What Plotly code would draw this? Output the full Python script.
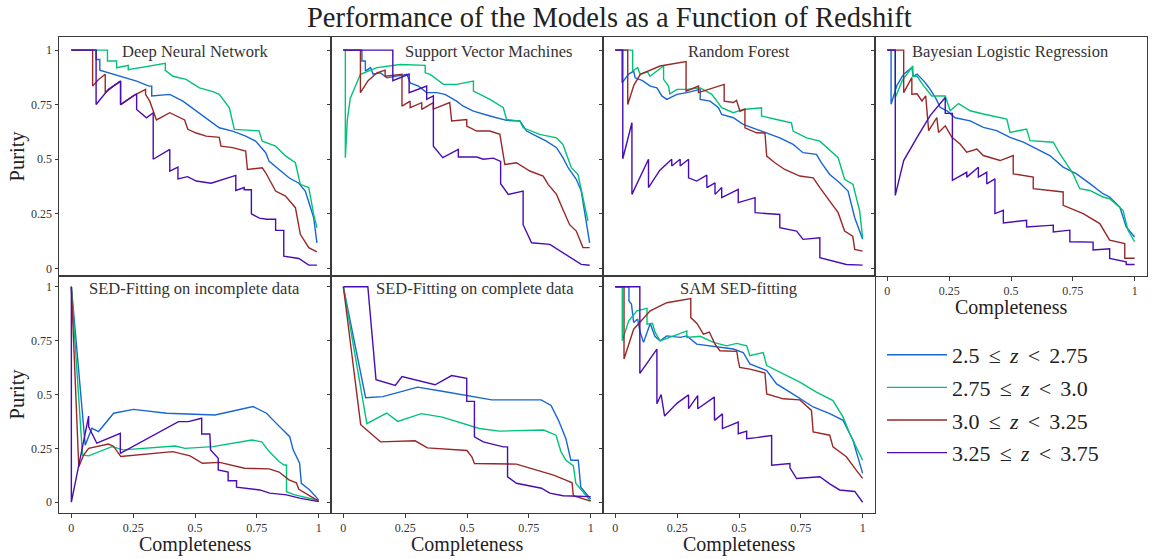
import plotly.graph_objects as go

W, H = 1152, 559

# ---------------- data: (completeness, purity) points ----------------
dnn_z1 = [(0,1),(0.10,1),(0.10,0.957),(0.115,0.957),(0.115,0.908),(0.2,0.88),(0.264,0.858),(0.314,0.835),(0.325,0.835),(0.325,0.79),(0.398,0.797),(0.451,0.766),(0.498,0.728),(0.545,0.69),(0.598,0.644),(0.652,0.629),(0.705,0.606),(0.745,0.583),(0.786,0.53),(0.80,0.49),(0.839,0.453),(0.88,0.415),(0.92,0.39),(0.946,0.354),(0.98,0.232),(0.993,0.117)]
dnn_z2 = [(0,1),(0.146,1),(0.146,0.95),(0.183,0.95),(0.183,0.919),(0.23,0.93),(0.23,0.91),(0.30,0.925),(0.38,0.939),(0.38,0.907),(0.411,0.88),(0.464,0.866),(0.498,0.843),(0.518,0.827),(0.572,0.81),(0.598,0.797),(0.639,0.736),(0.659,0.637),(0.759,0.63),(0.772,0.583),(0.826,0.56),(0.866,0.515),(0.906,0.484),(0.926,0.385),(0.96,0.37),(0.98,0.247),(0.993,0.186)]
dnn_z3 = [(0,1),(0.086,1),(0.086,0.835),(0.11,0.865),(0.137,0.889),(0.137,0.805),(0.17,0.835),(0.199,0.858),(0.199,0.75),(0.25,0.79),(0.30,0.82),(0.30,0.797),(0.317,0.766),(0.331,0.72),(0.344,0.68),(0.398,0.713),(0.438,0.69),(0.458,0.68),(0.471,0.637),(0.505,0.62),(0.545,0.606),(0.598,0.6),(0.605,0.56),(0.652,0.553),(0.705,0.537),(0.712,0.453),(0.772,0.461),(0.786,0.438),(0.826,0.354),(0.866,0.331),(0.906,0.278),(0.926,0.156),(0.96,0.095),(0.993,0.076)]
dnn_z4 = [(0,1),(0.100,1),(0.100,0.751),(0.15,0.82),(0.199,0.858),(0.199,0.75),(0.264,0.80),(0.264,0.728),(0.304,0.69),(0.331,0.713),(0.331,0.50),(0.398,0.545),(0.398,0.445),(0.431,0.464),(0.431,0.41),(0.47,0.42),(0.505,0.40),(0.565,0.39),(0.665,0.426),(0.665,0.357),(0.699,0.37),(0.699,0.36),(0.728,0.36),(0.728,0.25),(0.76,0.23),(0.79,0.225),(0.826,0.225),(0.826,0.174),(0.859,0.174),(0.859,0.056),(0.92,0.045),(0.96,0.015),(0.993,0.015)]

svm_z1 = [(0,1),(0.075,1),(0.075,0.95),(0.089,0.95),(0.089,0.904),(0.11,0.92),(0.12,0.89),(0.149,0.896),(0.176,0.873),(0.257,0.889),(0.27,0.85),(0.304,0.835),(0.337,0.805),(0.378,0.805),(0.411,0.797),(0.458,0.766),(0.485,0.743),(0.526,0.72),(0.593,0.698),(0.66,0.678),(0.714,0.675),(0.741,0.629),(0.781,0.606),(0.821,0.583),(0.862,0.553),(0.888,0.507),(0.909,0.461),(0.942,0.408),(0.962,0.354),(0.983,0.2),(0.996,0.117)]
svm_z2 = [(0,1),(0.008,1),(0.008,0.507),(0.016,0.68),(0.028,0.78),(0.069,0.889),(0.136,0.92),(0.23,0.934),(0.331,0.93),(0.331,0.896),(0.351,0.889),(0.405,0.843),(0.458,0.843),(0.526,0.858),(0.526,0.812),(0.566,0.79),(0.593,0.774),(0.647,0.736),(0.66,0.682),(0.714,0.675),(0.727,0.644),(0.794,0.614),(0.862,0.598),(0.888,0.568),(0.922,0.461),(0.949,0.43),(0.969,0.324),(0.989,0.217)]
svm_z3 = [(0,1),(0.069,1),(0.069,0.805),(0.1,0.86),(0.136,0.896),(0.169,0.908),(0.169,0.88),(0.203,0.885),(0.237,0.889),(0.237,0.743),(0.27,0.766),(0.27,0.736),(0.317,0.759),(0.317,0.728),(0.364,0.759),(0.364,0.73),(0.43,0.76),(0.438,0.675),(0.499,0.682),(0.499,0.652),(0.539,0.629),(0.593,0.629),(0.633,0.614),(0.653,0.476),(0.70,0.484),(0.754,0.446),(0.808,0.423),(0.828,0.385),(0.862,0.339),(0.888,0.27),(0.915,0.2),(0.942,0.171),(0.969,0.095),(0.996,0.095)]
svm_z4 = [(0,1),(0.2,1),(0.2,0.86),(0.266,0.89),(0.266,0.805),(0.337,0.835),(0.337,0.774),(0.364,0.79),(0.364,0.56),(0.402,0.507),(0.465,0.545),(0.465,0.51),(0.499,0.51),(0.539,0.51),(0.566,0.50),(0.606,0.505),(0.636,0.49),(0.636,0.388),(0.667,0.339),(0.727,0.354),(0.727,0.2),(0.761,0.117),(0.835,0.11),(0.888,0.072),(0.935,0.041),(0.962,0.018),(0.996,0.014)]

rf_z1 = [(0,1),(0.027,1),(0.027,0.85),(0.054,0.89),(0.074,0.904),(0.08,0.873),(0.11,0.86),(0.141,0.835),(0.168,0.827),(0.188,0.79),(0.208,0.774),(0.249,0.797),(0.289,0.805),(0.343,0.82),(0.343,0.774),(0.383,0.766),(0.417,0.736),(0.43,0.705),(0.477,0.69),(0.517,0.66),(0.571,0.637),(0.612,0.621),(0.665,0.598),(0.719,0.568),(0.759,0.53),(0.813,0.522),(0.833,0.484),(0.867,0.43),(0.907,0.392),(0.941,0.354),(0.968,0.232),(1.0,0.133)]
rf_z2 = [(0,1),(0.07,1),(0.07,0.904),(0.09,0.92),(0.1,0.89),(0.13,0.9),(0.14,0.88),(0.195,0.927),(0.195,0.866),(0.215,0.835),(0.22,0.80),(0.249,0.82),(0.289,0.82),(0.343,0.827),(0.39,0.797),(0.43,0.736),(0.477,0.713),(0.517,0.728),(0.591,0.736),(0.591,0.698),(0.652,0.682),(0.712,0.667),(0.719,0.629),(0.773,0.598),(0.827,0.583),(0.874,0.537),(0.901,0.507),(0.927,0.408),(0.961,0.385),(0.988,0.263),(1.0,0.14)]
rf_z3 = [(0,1),(0.05,1),(0.05,0.751),(0.075,0.84),(0.101,0.889),(0.181,0.927),(0.286,0.947),(0.286,0.812),(0.336,0.835),(0.336,0.805),(0.44,0.843),(0.44,0.766),(0.477,0.76),(0.49,0.77),(0.504,0.72),(0.524,0.73),(0.524,0.644),(0.571,0.621),(0.605,0.62),(0.612,0.514),(0.645,0.484),(0.685,0.453),(0.746,0.423),(0.80,0.415),(0.827,0.37),(0.867,0.308),(0.901,0.255),(0.927,0.171),(0.96,0.148),(0.968,0.087),(1.0,0.079)]
rf_z4 = [(0,1),(0.03,1),(0.03,0.502),(0.067,0.667),(0.067,0.339),(0.134,0.50),(0.134,0.37),(0.18,0.45),(0.228,0.50),(0.228,0.469),(0.262,0.50),(0.262,0.469),(0.296,0.50),(0.296,0.415),(0.329,0.40),(0.37,0.427),(0.37,0.37),(0.403,0.392),(0.403,0.339),(0.43,0.37),(0.43,0.324),(0.497,0.362),(0.497,0.301),(0.565,0.324),(0.565,0.255),(0.665,0.247),(0.665,0.186),(0.733,0.171),(0.759,0.133),(0.827,0.14),(0.827,0.049),(0.88,0.034),(0.934,0.018),(1.0,0.015)]

blr_z1 = [(0,1),(0.015,1),(0.015,0.752),(0.039,0.84),(0.066,0.89),(0.099,0.92),(0.105,0.88),(0.12,0.89),(0.147,0.859),(0.167,0.83),(0.194,0.783),(0.214,0.737),(0.241,0.722),(0.274,0.69),(0.335,0.676),(0.388,0.646),(0.442,0.631),(0.496,0.60),(0.55,0.578),(0.603,0.547),(0.657,0.517),(0.711,0.464),(0.765,0.433),(0.819,0.388),(0.872,0.342),(0.899,0.327),(0.94,0.281),(0.966,0.19),(1.0,0.144)]
blr_z2 = [(0,1),(0.032,1),(0.032,0.783),(0.06,0.86),(0.103,0.927),(0.103,0.88),(0.12,0.88),(0.147,0.836),(0.18,0.79),(0.234,0.79),(0.254,0.722),(0.288,0.755),(0.335,0.722),(0.388,0.707),(0.483,0.684),(0.496,0.623),(0.563,0.638),(0.577,0.585),(0.671,0.578),(0.698,0.524),(0.751,0.433),(0.778,0.365),(0.819,0.357),(0.872,0.327),(0.899,0.319),(0.953,0.266),(0.973,0.175),(1.0,0.122)]
blr_z3 = [(0,1),(0.066,1),(0.066,0.805),(0.099,0.874),(0.099,0.798),(0.12,0.80),(0.14,0.767),(0.155,0.79),(0.167,0.631),(0.20,0.691),(0.207,0.623),(0.234,0.653),(0.261,0.60),(0.294,0.57),(0.321,0.532),(0.362,0.547),(0.388,0.517),(0.456,0.494),(0.509,0.517),(0.509,0.433),(0.59,0.418),(0.59,0.365),(0.711,0.35),(0.711,0.289),(0.792,0.251),(0.859,0.205),(0.899,0.129),(0.96,0.114),(0.96,0.046),(1.0,0.046)]
blr_z4 = [(0,1),(0.032,1),(0.032,0.334),(0.066,0.494),(0.12,0.60),(0.173,0.70),(0.234,0.783),(0.234,0.71),(0.263,0.71),(0.263,0.403),(0.321,0.44),(0.321,0.418),(0.368,0.463),(0.368,0.418),(0.402,0.44),(0.402,0.387),(0.435,0.41),(0.435,0.251),(0.469,0.266),(0.469,0.208),(0.563,0.22),(0.563,0.19),(0.671,0.198),(0.671,0.167),(0.738,0.175),(0.738,0.122),(0.832,0.12),(0.832,0.084),(0.899,0.09),(0.899,0.046),(0.966,0.03),(0.966,0.018),(1.0,0.018)]

sedi_z1 = [(0,1),(0.056,0.265),(0.083,0.343),(0.11,0.328),(0.171,0.413),(0.251,0.431),(0.386,0.413),(0.581,0.405),(0.735,0.444),(0.789,0.413),(0.829,0.366),(0.856,0.335),(0.883,0.304),(0.897,0.243),(0.923,0.181),(0.93,0.088),(0.964,0.057),(1.0,0.011)]
sedi_z2 = [(0,1),(0.045,0.219),(0.07,0.215),(0.164,0.258),(0.21,0.243),(0.42,0.261),(0.46,0.25),(0.572,0.258),(0.73,0.289),(0.77,0.28),(0.80,0.235),(0.84,0.189),(0.86,0.173),(0.87,0.173),(0.87,0.049),(0.9,0.035),(1.0,0.008)]
sedi_z3 = [(0,1),(0.03,0.165),(0.05,0.22),(0.07,0.25),(0.15,0.27),(0.17,0.26),(0.2,0.212),(0.41,0.235),(0.48,0.215),(0.53,0.181),(0.6,0.185),(0.7,0.158),(0.8,0.155),(0.84,0.14),(0.88,0.104),(0.91,0.09),(0.92,0.06),(1.0,0.005)]
sedi_z4 = [(0,1),(0,0),(0.07,0.40),(0.07,0.35),(0.103,0.274),(0.198,0.32),(0.198,0.227),(0.433,0.374),(0.473,0.374),(0.527,0.39),(0.527,0.317),(0.56,0.317),(0.563,0.243),(0.594,0.204),(0.594,0.15),(0.634,0.14),(0.634,0.10),(0.668,0.10),(0.668,0.07),(0.762,0.057),(0.802,0.042),(0.87,0.034),(0.923,0.019),(1.0,0.003)]

sedc_z1 = [(0,1),(0.09,0.485),(0.16,0.49),(0.3,0.534),(0.4,0.515),(0.6,0.475),(0.8,0.475),(0.84,0.449),(0.87,0.38),(0.9,0.295),(0.92,0.195),(0.95,0.195),(0.96,0.07),(1.0,0.015)]
sedc_z2 = [(0,1),(0.095,0.365),(0.175,0.414),(0.22,0.375),(0.315,0.411),(0.4,0.395),(0.55,0.342),(0.63,0.33),(0.81,0.335),(0.86,0.311),(0.88,0.234),(0.9,0.195),(0.93,0.17),(0.94,0.088),(1.0,0.005)]
sedc_z3 = [(0,1),(0.07,0.36),(0.15,0.28),(0.29,0.285),(0.34,0.252),(0.5,0.24),(0.52,0.21),(0.53,0.18),(0.7,0.177),(0.78,0.15),(0.85,0.126),(0.9,0.103),(0.925,0.09),(0.93,0.03),(1.0,0.005)]
sedc_z4 = [(0,1),(0.099,1),(0.132,0.569),(0.21,0.542),(0.237,0.583),(0.371,0.545),(0.438,0.588),(0.499,0.575),(0.499,0.468),(0.53,0.468),(0.53,0.303),(0.566,0.28),(0.647,0.257),(0.664,0.257),(0.664,0.118),(0.70,0.088),(0.801,0.065),(0.835,0.042),(0.888,0.03),(1.0,0.026)]

sam_z1 = [(0,1),(0.055,1),(0.055,0.934),(0.065,0.92),(0.074,0.834),(0.09,0.85),(0.1,0.79),(0.114,0.742),(0.141,0.83),(0.16,0.77),(0.181,0.749),(0.208,0.772),(0.262,0.765),(0.289,0.772),(0.329,0.734),(0.383,0.726),(0.423,0.718),(0.477,0.711),(0.517,0.695),(0.544,0.642),(0.612,0.611),(0.652,0.549),(0.706,0.511),(0.746,0.48),(0.80,0.442),(0.867,0.411),(0.921,0.38),(0.961,0.288),(0.981,0.211),(1.0,0.134)]
sam_z2 = [(0,1),(0.028,1),(0.028,0.749),(0.054,0.842),(0.087,0.888),(0.128,0.9),(0.128,0.826),(0.15,0.83),(0.161,0.788),(0.181,0.749),(0.23,0.77),(0.289,0.795),(0.289,0.765),(0.343,0.77),(0.397,0.742),(0.45,0.726),(0.491,0.737),(0.531,0.726),(0.544,0.68),(0.598,0.695),(0.612,0.634),(0.679,0.595),(0.746,0.557),(0.813,0.511),(0.88,0.472),(0.921,0.395),(0.948,0.318),(1.0,0.195)]
sam_z3 = [(0,1),(0.035,1),(0.035,0.665),(0.074,0.803),(0.141,0.888),(0.208,0.926),(0.305,0.945),(0.305,0.857),(0.33,0.83),(0.356,0.78),(0.38,0.79),(0.403,0.734),(0.423,0.703),(0.491,0.70),(0.497,0.657),(0.503,0.626),(0.544,0.618),(0.605,0.60),(0.612,0.503),(0.679,0.48),(0.746,0.475),(0.793,0.426),(0.80,0.326),(0.867,0.311),(0.88,0.257),(0.934,0.211),(0.974,0.149),(1.0,0.111)]
sam_z4 = [(0,1),(0.099,1),(0.099,0.598),(0.168,0.711),(0.168,0.457),(0.185,0.5),(0.199,0.4),(0.25,0.46),(0.296,0.498),(0.296,0.434),(0.333,0.495),(0.333,0.434),(0.40,0.488),(0.401,0.38),(0.433,0.41),(0.433,0.342),(0.497,0.372),(0.497,0.318),(0.531,0.33),(0.531,0.295),(0.571,0.30),(0.632,0.31),(0.632,0.172),(0.706,0.18),(0.706,0.16),(0.733,0.11),(0.827,0.118),(0.867,0.085),(0.907,0.057),(0.968,0.05),(1.0,0.0)]

SP = "\u2004\u200a"   # slightly wider math spacing around relations
series_names = ["2.5" + SP + "\u2264" + SP + "<i>z</i>" + SP + "&lt;" + SP + "2.75",
                "2.75" + SP + "\u2264" + SP + "<i>z</i>" + SP + "&lt;" + SP + "3.0",
                "3.0" + SP + "\u2264" + SP + "<i>z</i>" + SP + "&lt;" + SP + "3.25",
                "3.25" + SP + "\u2264" + SP + "<i>z</i>" + SP + "&lt;" + SP + "3.75"]
series_colors = ["#1766d4", "#00c278", "#982828", "#4a0cb4"]

panel_titles = ["Deep Neural Network", "Support Vector Machines", "Random Forest",
                "Bayesian Logistic Regression", "SED-Fitting on incomplete data",
                "SED-Fitting on complete data", "SAM SED-fitting"]
panel_series = [[dnn_z1, dnn_z2, dnn_z3, dnn_z4], [svm_z1, svm_z2, svm_z3, svm_z4],
                [rf_z1, rf_z2, rf_z3, rf_z4], [blr_z1, blr_z2, blr_z3, blr_z4],
                [sedi_z1, sedi_z2, sedi_z3, sedi_z4], [sedc_z1, sedc_z2, sedc_z3, sedc_z4],
                [sam_z1, sam_z2, sam_z3, sam_z4]]

tick_vals = [0, 0.25, 0.5, 0.75, 1]
tick_text = ["0", "0.25", "0.5", "0.75", "1"]

# ---------------- layout geometry (pixels) ----------------
COL_EDGES = [59, 331, 603, 875, 1147]
ROWS = [(37, 276), (276, 513)]
Y_RANGES = [[-0.035, 1.06], [-0.05, 1.05]]
PANEL_POS = [(0, 0), (0, 1), (0, 2), (0, 3), (1, 0), (1, 1), (1, 2)]
TITLE_X = [195, 488, 739, 1010, 194.5, 475, 738.5]
TITLE_Y = [51.5, 288.5]

FONT = "Liberation Serif"
LINE_COL = "#3a3a3a"


def px(x):
    return x / W


def py(y):
    return 1 - y / H


fig = go.Figure()
layout = dict(
    width=W, height=H,
    margin=dict(l=0, r=0, t=0, b=0),
    paper_bgcolor="white", plot_bgcolor="white",
    showlegend=True,
    font=dict(family=FONT, color="#222"),
)

annotations = []
for i, (title, series) in enumerate(zip(panel_titles, panel_series)):
    k = i + 1
    row, col = PANEL_POS[i]
    xs = "" if k == 1 else str(k)
    x0, x1 = COL_EDGES[col], COL_EDGES[col + 1]
    y0, y1 = ROWS[row]
    show_x_labels = (row == 1) or (col == 3)
    show_y_labels = (col == 0)
    layout["xaxis" + xs] = dict(
        domain=[px(x0), px(x1)], range=[-0.05, 1.05], anchor="y" + xs,
        showline=True, mirror=True, linecolor=LINE_COL, linewidth=1,
        showgrid=False, zeroline=False,
        ticks="outside" if show_x_labels else "", ticklen=3.5, tickwidth=1, tickcolor=LINE_COL,
        tickvals=tick_vals, ticktext=tick_text, showticklabels=show_x_labels,
        tickfont=dict(family=FONT, size=12, color="#333"),
    )
    layout["yaxis" + xs] = dict(
        domain=[py(y1), py(y0)], range=Y_RANGES[row], anchor="x" + xs,
        showline=True, mirror=True, linecolor=LINE_COL, linewidth=1,
        showgrid=False, zeroline=False,
        ticks="outside", ticklen=3.5, tickwidth=1, tickcolor=LINE_COL,
        tickvals=tick_vals, ticktext=tick_text, showticklabels=show_y_labels,
        tickfont=dict(family=FONT, size=12, color="#333"),
    )
    for j, pts in enumerate(series):
        fig.add_trace(go.Scatter(
            x=[p[0] for p in pts], y=[p[1] for p in pts],
            mode="lines", line=dict(color=series_colors[j], width=1.4),
            name=series_names[j], legendgroup="g%d" % j,
            showlegend=(i == 0), xaxis="x" + xs, yaxis="y" + xs,
            hoverinfo="skip",
        ))
    annotations.append(dict(
        text=title, x=px(TITLE_X[i]), y=py(TITLE_Y[row]), xref="paper", yref="paper",
        xanchor="center", yanchor="middle", showarrow=False,
        font=dict(family=FONT, size=16.5, color="#333"),
    ))
    if show_x_labels:
        annotations.append(dict(
            text="Completeness", x=px((x0 + x1) / 2), y=py(y1 + 31), xref="paper", yref="paper",
            xanchor="center", yanchor="middle", showarrow=False,
            font=dict(family=FONT, size=20, color="#222"),
        ))
    if show_y_labels:
        annotations.append(dict(
            text="Purity", x=px(17), y=py((y0 + y1) / 2), xref="paper", yref="paper",
            xanchor="center", yanchor="middle", showarrow=False, textangle=-90,
            font=dict(family=FONT, size=20.5, color="#222"),
        ))

annotations.append(dict(
    text="Performance of the Models as a Function of Redshift",
    x=px(609), y=py(18), xref="paper", yref="paper", xanchor="center", yanchor="middle",
    showarrow=False, font=dict(family=FONT, size=28.5, color="#222"),
))

layout["annotations"] = annotations
layout["legend"] = dict(
    x=px(882), y=py(334), xanchor="left", yanchor="top",
    bgcolor="rgba(0,0,0,0)", borderwidth=0,
    font=dict(family=FONT, size=22, color="#222"),
    traceorder="grouped", tracegroupgap=1, itemwidth=60,
)
fig.update_layout(**layout)
fig.write_html("out.html")
